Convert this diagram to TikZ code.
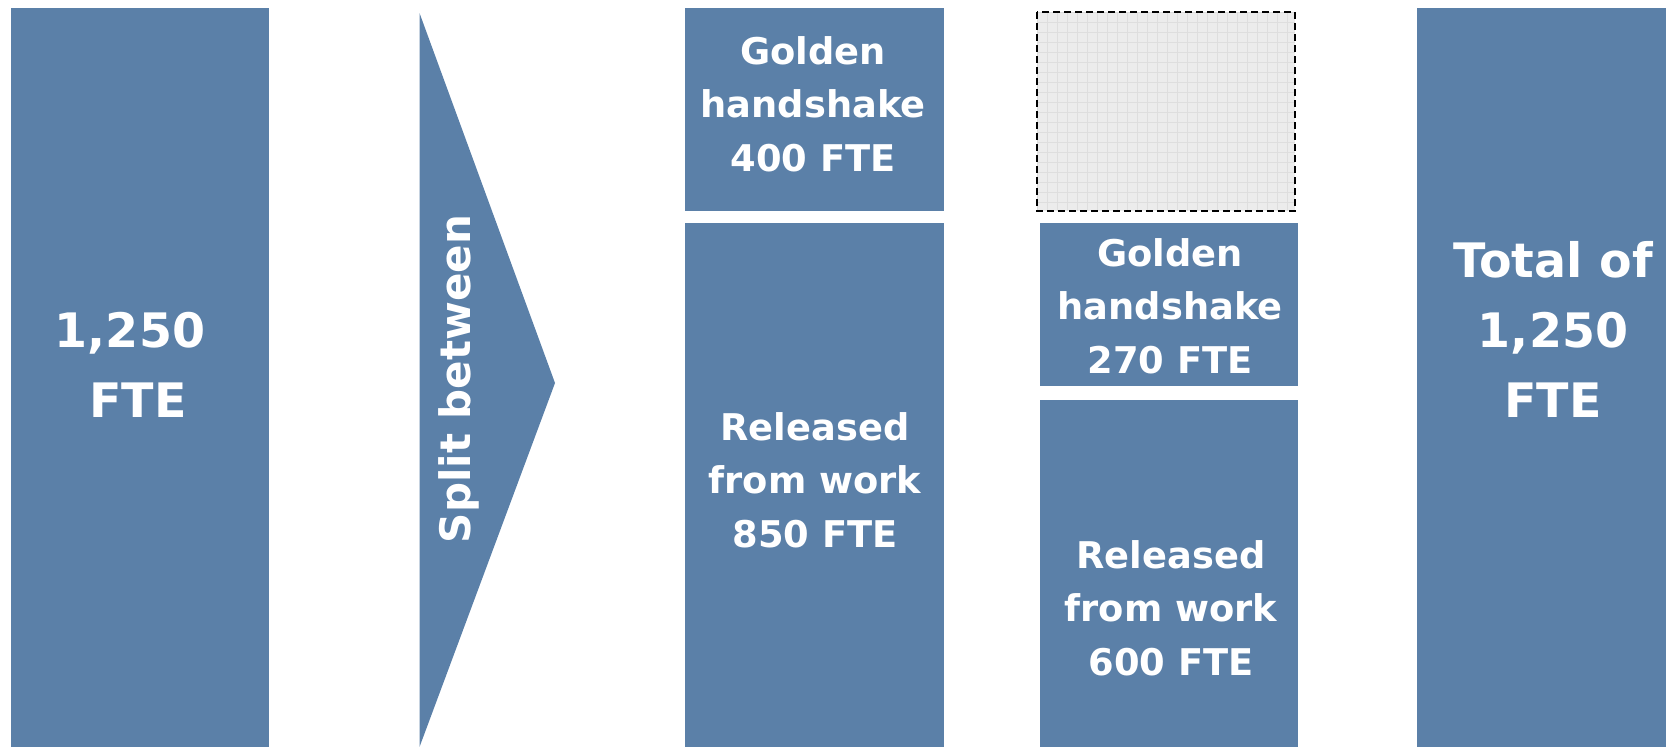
\documentclass[tikz,border=0pt]{standalone}
\usepackage{fontspec}
\setmainfont{DejaVu Sans}
\definecolor{barblue}{RGB}{91,128,168}
\definecolor{gridfill}{RGB}{236,236,236}
\definecolor{gridline}{RGB}{222,222,222}
\begin{document}
\begin{tikzpicture}[x=1pt,y=-1pt,
  bar/.style={fill=barblue,draw=none,inner sep=0pt},
  lbl/.style={text=white,font=\bfseries\fontsize{36.8}{53.5}\selectfont,align=center,inner sep=0pt},
  biglbl/.style={text=white,font=\bfseries\fontsize{47.5}{70}\selectfont,align=center,inner sep=0pt}]
\useasboundingbox (0,0) rectangle (1666,747);
% bars
\path[bar] (11,8) rectangle (269,747);
\path[bar] (685,8) rectangle (944,211);
\path[bar] (685,223) rectangle (944,747);
\path[bar] (1040,223) rectangle (1298,386);
\path[bar] (1040,400) rectangle (1298,747);
\path[bar] (1417,8) rectangle (1666,747);
% triangle
\coordinate (tA) at (419.5,13);
\coordinate (tB) at (555,383);
\coordinate (tC) at (419.5,747);
\fill[barblue] (tA) -- (tB) -- (tC) -- cycle;
% dashed placeholder
\fill[gridfill] (1037,12) rectangle (1295,211);
\begin{scope}
\clip (1037,12) rectangle (1295,211);
\foreach \i in {0,...,26} {\draw[gridline,line width=0.6pt] (1037+10*\i,12) -- (1037+10*\i,211);}
\foreach \j in {0,...,20} {\draw[gridline,line width=0.6pt] (1037,12+10*\j) -- (1295,12+10*\j);}
\end{scope}
\draw[black,line width=2pt,dash pattern=on 7pt off 4pt] (1037,12) rectangle (1295,211);
% labels
\node[biglbl] (l1) at (138,365) {1,250\hspace*{16pt}\\FTE};
\node[lbl,rotate=90,font=\bfseries\fontsize{42}{50}\selectfont] (split) at (459,379) {Split between};
\node[lbl] (g1) at (813,104) {Golden\\handshake\\400 FTE};
\node[lbl] (r1) at (815,480) {Released\\from work\\850 FTE};
\node[lbl] (g2) at (1170,306) {Golden\\handshake\\270 FTE};
\node[lbl] (r2) at (1171,608) {Released\\from work\\600 FTE};
\node[biglbl] (tot) at (1553,329) {Total of\\1,250\hspace*{13pt}\\FTE};
\end{tikzpicture}
\end{document}
